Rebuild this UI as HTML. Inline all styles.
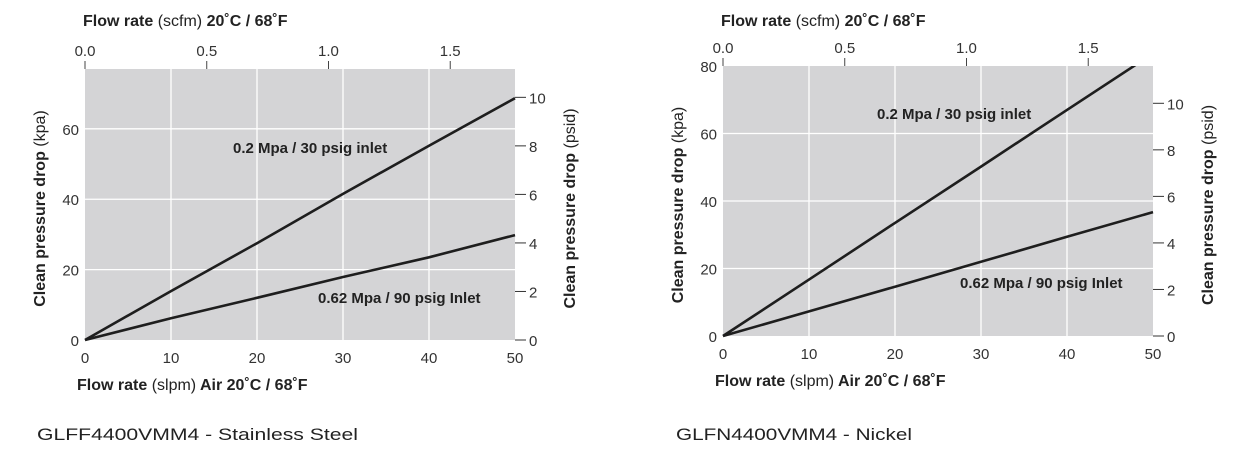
<!DOCTYPE html>
<html><head><meta charset="utf-8">
<style>
html,body{margin:0;padding:0;background:#fff;}
svg{display:block;font-family:"Liberation Sans Narrow","Liberation Sans",sans-serif;}
.tk{font-size:15px;fill:#333;}
.tt{font-size:16px;fill:#222;font-weight:bold;}
.tt .n{font-weight:normal;}
.lab{font-size:15px;font-weight:bold;fill:#222;}
.cap{font-size:17px;fill:#222;font-family:"Liberation Sans",sans-serif;}
</style></head>
<body>
<svg id="root" width="1251" height="460" viewBox="0 0 1251 460" xmlns="http://www.w3.org/2000/svg"></svg>
<script>
// shared data
const slpmTicks = [0, 10, 20, 30, 40, 50];
const scfmTicks = ["0.0", "0.5", "1.0", "1.5"];
const psidTicks = [0, 2, 4, 6, 8, 10];
const seriesX = [0, 10, 20, 30, 40, 50];
// chart 1: stainless steel
const ssKpaTicks = [0, 20, 40, 60];
const ss30psig = [0, 13.9, 27.5, 41.5, 55.2, 68.7];
const ss90psig = [0, 6.2, 12.0, 17.9, 23.5, 29.8];
// chart 2: nickel
const niKpaTicks = [0, 20, 40, 60, 80];
const ni30psig = [0, 16.7, 33.5, 50.2, 67.0, 83.7];
const ni90psig = [0, 7.3, 14.6, 22.0, 29.4, 36.7];

const NS = "http://www.w3.org/2000/svg";
const root = document.getElementById('root');
function mk(tag, attrs, parent) {
  const e = document.createElementNS(NS, tag);
  for (const k in attrs) e.setAttribute(k, attrs[k]);
  (parent || root).appendChild(e);
  return e;
}

function drawChart(cfg) {
  const g = mk('g', {});
  
  
  const L = cfg.left, R = cfg.right, T = cfg.top, B = cfg.bottom;
  const xs = v => L + (v - 0) / 50 * (R - L);
  const ys = v => B - v / cfg.kpaMax * (B - T);
  const scfmX = v => L + v / cfg.scfmMax * (R - L);
  const psiY = v => B - (v * 6.89476) / cfg.kpaMax * (B - T);

  const bg = mk('rect', {x: L, y: T, width: R - L, height: B - T, fill: '#d4d4d6'}, g);
  
  

  // vertical gridlines
  slpmTicks.forEach(v => {
    if (v > 0 && v < 50) {
      const l = mk('line', {x1: xs(v), x2: xs(v), y1: T, y2: B, stroke: '#fff', 'stroke-width': 1.3}, g);
      
      
    }
    const t = mk('text', {x: xs(v), y: B + 23, 'text-anchor': 'middle', class: 'tk'}, g);
    
    
    t.textContent = v;
  });
  // horizontal gridlines + left labels
  cfg.kpaTicks.forEach(v => {
    if (v > 0 && v < cfg.kpaMax) {
      const l = mk('line', {x1: L, x2: R, y1: ys(v), y2: ys(v), stroke: '#fff', 'stroke-width': 1.3}, g);
      
      
    }
    const t = mk('text', {x: L - 6, y: ys(v) + 6, 'text-anchor': 'end', class: 'tk'}, g);
    
    
    t.textContent = v;
  });
  // top scfm axis
  scfmTicks.forEach(s => {
    const x = scfmX(parseFloat(s));
    const l = mk('line', {x1: x, x2: x, y1: T - 8, y2: T, stroke: '#444', 'stroke-width': 1}, g);
    
    
    const t = mk('text', {x: x, y: T - 13, 'text-anchor': 'middle', class: 'tk'}, g);
    
    
    t.textContent = s;
  });
  // right psid axis
  psidTicks.forEach(v => {
    const y = psiY(v);
    const l = mk('line', {x1: R, x2: R + 11, y1: y, y2: y, stroke: '#333', 'stroke-width': 1}, g);
    
    
    const t = mk('text', {x: R + 14, y: y + 6, class: 'tk'}, g);
    
    
    t.textContent = v;
  });
  // clip
  const cp = mk('clipPath', {id: cfg.name + '-clip'}, g);
  mk('rect', {x: L - 2, y: T, width: R - L + 4, height: B - T + 2}, cp);
  // series
  [[cfg.s1, 'series-30-psig'], [cfg.s2, 'series-90-psig']].forEach(([arr, nm]) => {
    const d = arr.map((v, i) => (i ? 'L' : 'M') + xs(seriesX[i]).toFixed(1) + ',' + ys(v).toFixed(1)).join(' ');
    const p = mk('path', {d: d, fill: 'none', stroke: '#1e1e1e', 'stroke-width': 2.6, 'clip-path': 'url(#' + cfg.name + '-clip)'}, g);
    
    
  });
  // series labels
  const l1 = mk('text', {x: cfg.lab1[0], y: cfg.lab1[1], class: 'lab'}, g);
  
  
  l1.textContent = '0.2 Mpa / 30 psig inlet';
  const l2 = mk('text', {x: cfg.lab2[0], y: cfg.lab2[1], class: 'lab'}, g);
  
  
  l2.textContent = '0.62 Mpa / 90 psig Inlet';
  // titles
  const tt = mk('text', {x: L - 2, y: 26, class: 'tt'}, g);
  
  
  tt.innerHTML = 'Flow rate <tspan class="n">(scfm)</tspan> 20˚C / 68˚F';
  const bt = mk('text', {x: L - 8, y: B + 50, class: 'tt'}, g);
  
  
  bt.innerHTML = 'Flow rate <tspan class="n">(slpm)</tspan> Air 20˚C / 68˚F';
  const cy = (T + B) / 2 + 4;
  const lt = mk('text', {x: 0, y: 0, class: 'tt', 'text-anchor': 'middle', transform: `translate(${cfg.ly},${cy}) rotate(-90)`}, g);
  
  
  lt.innerHTML = 'Clean pressure drop <tspan class="n">(kpa)</tspan>';
  const rt = mk('text', {x: 0, y: 0, class: 'tt', 'text-anchor': 'middle', transform: `translate(${cfg.ry},${cy}) rotate(-90)`}, g);
  
  
  rt.innerHTML = 'Clean pressure drop <tspan class="n">(psid)</tspan>';
  const cap = mk('text', {x: cfg.cap[0], y: 440, class: 'cap', textLength: cfg.cap[2], lengthAdjust: 'spacingAndGlyphs'}, g);
  
  
  cap.textContent = cfg.capText;
}

drawChart({name: 'chart-stainless-steel', left: 85, right: 515, top: 69, bottom: 340,
  kpaMax: 77, kpaTicks: ssKpaTicks, scfmMax: 1.766, s1: ss30psig, s2: ss90psig,
  lab1: [233, 153], lab2: [318, 303], ly: 45, ry: 575, cap: [37, 0, 321],
  capText: 'GLFF4400VMM4 -  Stainless Steel'});
drawChart({name: 'chart-nickel', left: 723, right: 1153, top: 66, bottom: 336,
  kpaMax: 80, kpaTicks: niKpaTicks, scfmMax: 1.766, s1: ni30psig, s2: ni90psig,
  lab1: [877, 119], lab2: [960, 288], ly: 683, ry: 1213, cap: [676, 0, 236],
  capText: 'GLFN4400VMM4 - Nickel'});
</script>
</body></html>
